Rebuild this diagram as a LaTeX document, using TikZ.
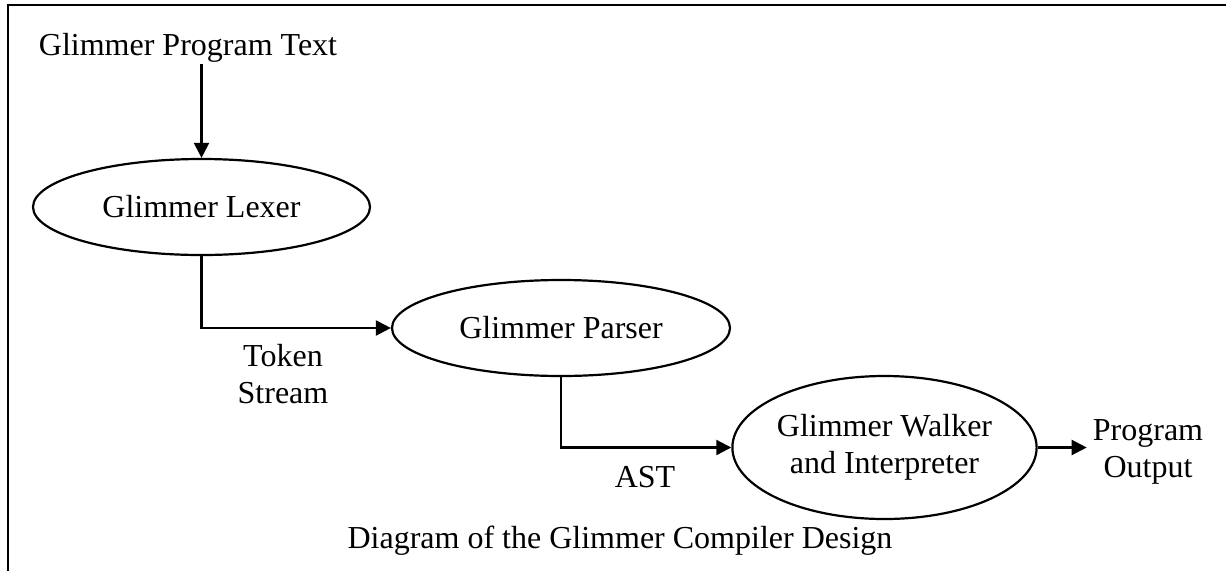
\documentclass[tikz,border=0pt]{standalone}
\usepackage{fontspec}
\setmainfont{Liberation Serif}
\usetikzlibrary{shapes.geometric,arrows.meta}
\tikzset{
  lbl/.style={font=\fontsize{32}{37}\selectfont, inner sep=2pt, align=center, anchor=base},
  proc/.style={draw, ellipse, line width=2.2pt, inner sep=0pt, font=\fontsize{32}{37}\selectfont, align=center},
  arr/.style={line width=2.2pt, -{Triangle[length=15pt,width=15pt]}},
  frameline/.style={line width=2.2pt}
}
\begin{document}
\begin{tikzpicture}[x=1pt,y=-1pt]
\useasboundingbox (0,0) rectangle (1226,571);
\fill[white] (0,0) rectangle (1226,571);
\draw[frameline] (8,571) -- (8,5) -- (1226,5);
\node[lbl] (src) at (188,55) {Glimmer Program Text};
\node[proc, minimum width=337pt, minimum height=96pt] (lexer) at (201.5,207) {Glimmer Lexer};
\node[proc, minimum width=338pt, minimum height=96pt] (parser) at (561,328) {Glimmer Parser};
\node[proc, minimum width=265pt, minimum height=143pt] (walker) at (884.5,447.5) {Glimmer Walker\\and Interpreter};
\node[lbl] (token) at (283,403) {Token\\Stream};
\node[lbl] (ast) at (645,487) {AST};
\node[lbl, inner xsep=6pt] (out) at (1148,477) {Program\\Output};
\node[lbl] (caption) at (620,548) {Diagram of the Glimmer Compiler Design};
\draw[arr] (lexer.north |- src.south) -- (lexer.north);
\draw[arr] (lexer.south) |- (parser.west);
\draw[arr] (parser.south) |- (walker.west);
\draw[arr] (walker.east) -- (walker.east -| out.west);
\end{tikzpicture}
\end{document}
